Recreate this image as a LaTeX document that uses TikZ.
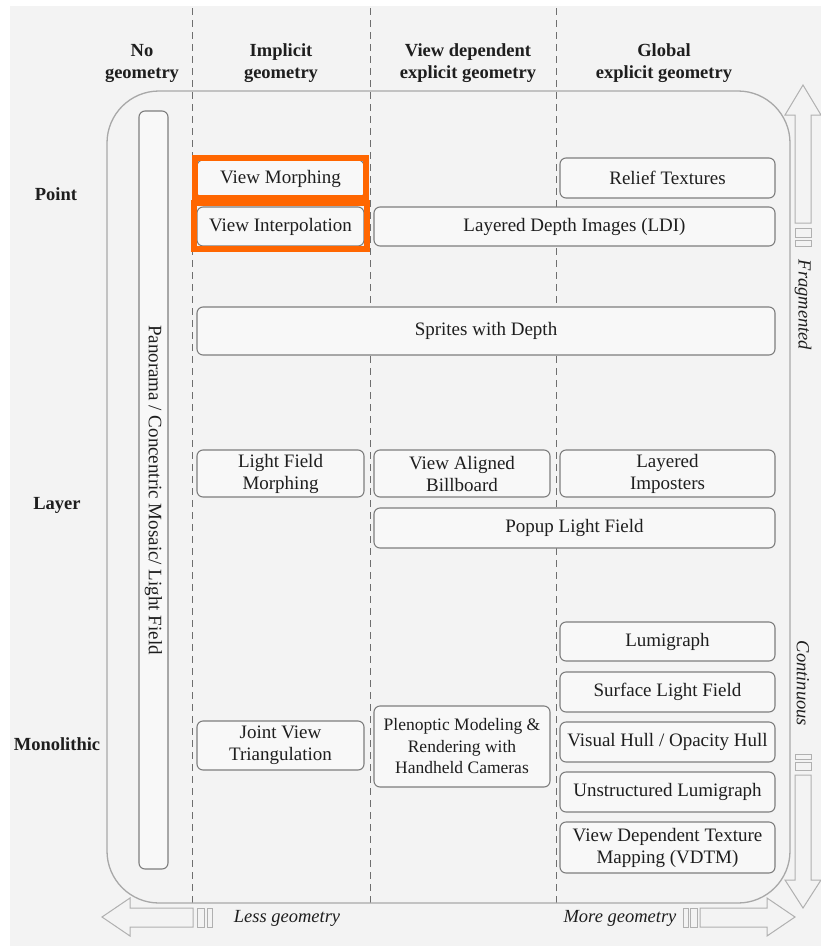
\documentclass[tikz,border=0pt]{standalone}
\usepackage{fontspec}
\setmainfont{Liberation Serif}
\definecolor{bgc}{HTML}{F3F3F3}
\definecolor{boxfill}{HTML}{F8F8F8}
\definecolor{boxline}{HTML}{7E7E7E}
\definecolor{bigline}{HTML}{A8A8A8}
\definecolor{arrline}{HTML}{B0B0B0}
\definecolor{dashc}{HTML}{6E6E6E}
\definecolor{txt}{HTML}{1E1E1E}
\definecolor{orng}{HTML}{FF6600}
\begin{document}
\begin{tikzpicture}[x=1pt,y=-1pt,
  every node/.style={text=txt},
  cell/.style={draw=boxline, line width=1.1pt, fill=boxfill, rounded corners=6pt,
    inner sep=0pt, align=center, font=\fontsize{19}{22}\selectfont},
  hdr/.style={align=center, font=\fontsize{18.5}{22}\selectfont\bfseries},
  lbl/.style={font=\fontsize{18.5}{22}\selectfont\itshape},
  bigarrow/.style={draw=arrline, line width=1pt, fill=bgc},
  sep/.style={draw=dashc, line width=1pt, dash pattern=on 7pt off 5pt},
  hl/.style={draw=orng, line width=6pt}
]
\useasboundingbox (0,0) rectangle (821,946);
\fill[white] (0,0) rectangle (821,946);
\fill[bgc] (10,6) rectangle (821,946);

% column separators
\draw[sep] (192,8) -- (192,903);
\draw[sep] (370,8) -- (370,903);
\draw[sep] (556,8) -- (556,903);

% big frame
\draw[draw=bigline, line width=1.3pt, rounded corners=52pt] (107,91) rectangle (790,903);

% headers
\node[hdr] (h0) at (142,63) {No\\geometry};
\node[hdr] (h1) at (281,63) {Implicit\\geometry};
\node[hdr] (h2) at (468,63) {View dependent\\explicit geometry};
\node[hdr] (h3) at (664,63) {Global\\explicit geometry};

% row labels
\node[hdr] (rPoint) at (56,194) {Point};
\node[hdr] (rLayer) at (57,505) {Layer};
\node[hdr] (rMono) at (57,744) {Monolithic};

% panorama
\node[cell, minimum width=29pt, minimum height=758pt] (pano) at (153.5,490) {};
\node[rotate=-90, font=\fontsize{19}{22}\selectfont] (panotxt) at (pano.center) {Panorama / Concentric Mosaic/ Light Field};

% boxes
\node[cell, minimum width=167pt, minimum height=38pt] (vm) at (280.5,179) {View Morphing};
\node[cell, minimum width=167pt, minimum height=39pt] (vi) at (280.5,226.5) {View Interpolation};
\node[cell, minimum width=215pt, minimum height=40pt] (relief) at (667.5,178) {Relief Textures};
\node[cell, minimum width=401pt, minimum height=39pt] (ldi) at (574.5,226.5) {Layered Depth Images (LDI)};
\node[cell, minimum width=578pt, minimum height=48pt] (sprites) at (486,331) {Sprites with Depth};
\node[cell, minimum width=167pt, minimum height=47pt] (lfm) at (280.5,473.5) {Light Field\\Morphing};
\node[cell, minimum width=176pt, minimum height=47pt] (vab) at (462,473.5) {View Aligned\\Billboard};
\node[cell, minimum width=215pt, minimum height=47pt] (li) at (667.5,473.5) {Layered\\Imposters};
\node[cell, minimum width=401pt, minimum height=40pt] (plf) at (574.5,528) {Popup Light Field};
\node[cell, minimum width=215pt, minimum height=39pt] (lumi) at (667.5,641.5) {Lumigraph};
\node[cell, minimum width=215pt, minimum height=40pt] (slf) at (667.5,692) {Surface Light Field};
\node[cell, minimum width=215pt, minimum height=40pt] (vh) at (667.5,742) {Visual Hull / Opacity Hull};
\node[cell, minimum width=215pt, minimum height=40pt] (ul) at (667.5,792) {Unstructured Lumigraph};
\node[cell, minimum width=215pt, minimum height=51pt] (vdtm) at (667.5,847.5) {View Dependent Texture\\Mapping (VDTM)};
\node[cell, minimum width=167pt, minimum height=49pt] (jvt) at (280.5,745.5) {Joint View\\Triangulation};
\node[cell, minimum width=176pt, minimum height=81pt, font=\fontsize{17.5}{21.5}\selectfont] (plen) at (462,746.5) {Plenoptic Modeling \&\\Rendering with\\Handheld Cameras};

% orange highlights
\draw[hl] (195,158) rectangle (366,198);
\draw[hl] (194,203) rectangle (367,249);

% right arrows
\draw[bigarrow] (795,223) -- (795,115) -- (785,115) -- (803,85) -- (821,115) -- (811,115) -- (811,223) -- cycle;
\draw[bigarrow] (795,228) rectangle (811,237);
\draw[bigarrow] (795,240.5) rectangle (811,246.5);
\node[lbl, rotate=-90] (frag) at (803,305) {Fragmented};

\draw[bigarrow] (795,775) -- (795,880) -- (785,880) -- (803,908) -- (821,880) -- (811,880) -- (811,775) -- cycle;
\draw[bigarrow] (795,762) rectangle (811,770.5);
\draw[bigarrow] (795,754.5) rectangle (811,759.5);
\node[lbl, rotate=-90] (cont) at (803,683.5) {Continuous};

% bottom arrows
\draw[bigarrow] (193,908) -- (130,908) -- (130,898) -- (102,917) -- (130,936) -- (130,927) -- (193,927) -- cycle;
\draw[bigarrow] (197,908) rectangle (204.5,927);
\draw[bigarrow] (207,908) rectangle (212,927);
\node[lbl] (less) at (287,918) {Less geometry};

\draw[bigarrow] (700,908) -- (767,908) -- (767,898) -- (795,917) -- (767,936) -- (767,927) -- (700,927) -- cycle;
\draw[bigarrow] (690,908) rectangle (697,927);
\draw[bigarrow] (683,908) rectangle (688,927);
\node[lbl] (more) at (620,918) {More geometry};
\end{tikzpicture}
\end{document}
